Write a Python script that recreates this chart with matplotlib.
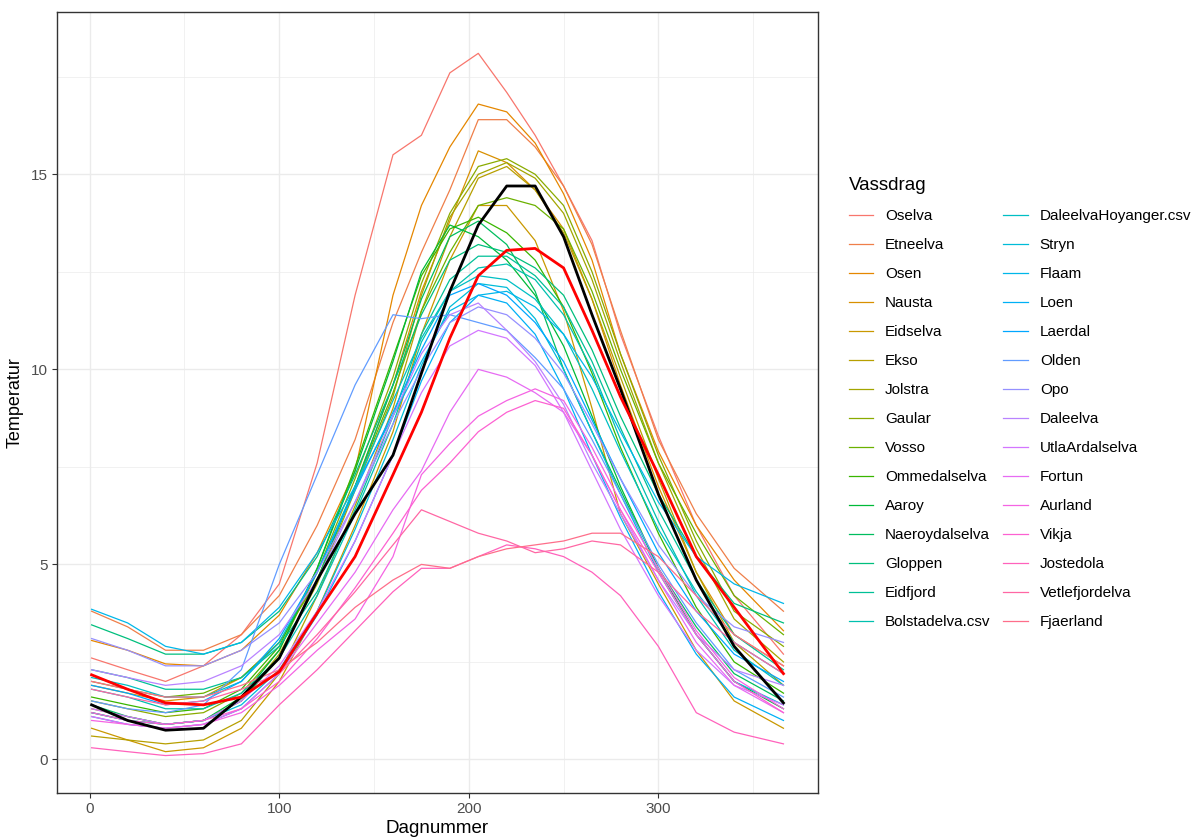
import numpy as np
import matplotlib.pyplot as plt

plt.rcParams['font.family'] = ['Liberation Sans', 'DejaVu Sans']

# dagnummer der verdiane er avlesne
dager = [1, 20, 40, 60, 80, 100, 120, 140, 160, 175, 190, 205, 220, 235, 250, 265, 280, 300, 320, 340, 366]

vassdrag = ["Oselva", "Etneelva", "Osen", "Nausta", "Eidselva", "Ekso", "Jolstra", "Gaular",
            "Vosso", "Ommedalselva", "Aaroy", "Naeroydalselva", "Gloppen", "Eidfjord",
            "Bolstadelva.csv", "DaleelvaHoyanger.csv", "Stryn", "Flaam", "Loen", "Laerdal",
            "Olden", "Opo", "Daleelva", "UtlaArdalselva", "Fortun", "Aurland", "Vikja",
            "Jostedola", "Vetlefjordelva", "Fjaerland"]

oselva = [2.6, 2.3, 2.0, 2.4, 3.2, 4.5, 7.6, 11.9, 15.5, 16.0, 17.6, 18.1, 17.1, 16.0, 14.7, 13.3, 10.9, 8.3, 6.0, 4.2, 2.7]
etneelva = [3.8, 3.4, 2.8, 2.8, 3.2, 4.2, 6.0, 8.2, 11.2, 13.0, 14.6, 16.4, 16.4, 15.7, 14.7, 13.2, 11.0, 8.2, 6.3, 4.9, 3.8]
osen = [3.05, 2.8, 2.45, 2.4, 2.8, 3.7, 5.3, 7.4, 11.9, 14.2, 15.7, 16.8, 16.6, 15.8, 14.5, 12.8, 10.4, 7.9, 6.0, 4.6, 3.3]
nausta = [1.9, 1.7, 1.5, 1.6, 2.1, 3.0, 4.6, 7.0, 9.6, 12.0, 13.8, 15.6, 15.3, 14.6, 13.6, 11.8, 9.6, 7.0, 4.8, 3.2, 2.4]
eidselva = [0.8, 0.5, 0.2, 0.3, 0.8, 2.0, 3.8, 6.0, 8.4, 10.9, 12.8, 14.2, 14.2, 13.3, 11.5, 9.0, 6.3, 4.5, 2.8, 1.5, 0.8]
ekso = [0.6, 0.5, 0.4, 0.5, 1.0, 2.2, 4.2, 6.5, 9.0, 11.5, 13.4, 14.9, 15.2, 14.6, 13.5, 11.8, 9.8, 7.2, 4.8, 3.0, 1.9]
jolstra = [1.3, 1.1, 0.9, 1.0, 1.5, 2.7, 4.5, 6.9, 9.3, 11.9, 13.9, 15.0, 15.3, 14.9, 14.0, 12.3, 10.2, 7.6, 5.4, 3.6, 2.5]
gaular = [1.5, 1.3, 1.1, 1.2, 1.7, 2.8, 4.8, 7.2, 9.8, 12.2, 14.0, 15.2, 15.4, 15.0, 14.2, 12.5, 10.4, 7.8, 5.6, 3.8, 2.9]
vosso = [2.0, 1.8, 1.6, 1.7, 2.1, 3.0, 4.6, 7.0, 9.4, 11.5, 13.0, 14.2, 14.4, 14.2, 13.6, 12.0, 10.0, 7.6, 5.8, 4.2, 3.2]
ommedalselva = [1.6, 1.4, 1.2, 1.3, 1.8, 2.9, 4.9, 7.5, 10.3, 12.4, 13.6, 13.9, 13.5, 12.8, 11.6, 9.9, 8.0, 5.8, 3.9, 2.5, 1.7]
aaroy = [1.2, 1.0, 0.9, 1.0, 1.6, 2.8, 4.9, 7.4, 10.2, 12.5, 13.7, 13.4, 12.8, 11.9, 10.6, 8.8, 7.0, 4.9, 3.2, 2.0, 1.3]
naeroydalselva = [1.4, 1.1, 0.9, 1.0, 1.5, 2.6, 4.6, 7.0, 9.6, 11.8, 13.4, 13.8, 13.2, 12.0, 10.0, 8.4, 6.9, 4.9, 3.4, 2.2, 1.5]
gloppen = [3.45, 3.1, 2.7, 2.7, 3.0, 3.8, 5.2, 7.3, 9.6, 11.4, 12.8, 13.2, 13.0, 12.6, 11.9, 10.5, 8.8, 6.8, 5.2, 4.0, 3.5]
eidfjord = [2.3, 2.1, 1.8, 1.8, 2.1, 2.9, 4.3, 6.4, 8.8, 10.9, 12.3, 12.9, 12.9, 12.4, 11.6, 10.2, 8.5, 6.4, 4.6, 3.2, 2.3]
bolstadelva = [1.8, 1.6, 1.3, 1.3, 1.7, 2.6, 4.2, 6.3, 8.6, 10.7, 12.0, 12.6, 12.7, 12.3, 11.4, 10.0, 8.2, 6.1, 4.2, 2.8, 1.9]
daleelva_hoyanger = [2.1, 1.9, 1.6, 1.6, 2.0, 3.0, 4.8, 7.0, 9.2, 10.8, 12.0, 12.4, 12.3, 11.8, 10.9, 9.5, 7.9, 5.9, 4.3, 3.0, 2.2]
stryn = [1.2, 1.0, 0.9, 1.0, 1.4, 2.3, 3.8, 5.9, 8.2, 10.1, 11.6, 12.2, 12.1, 11.3, 10.0, 8.4, 6.8, 4.8, 3.2, 2.0, 1.4]
flaam = [3.85, 3.5, 2.9, 2.7, 3.0, 3.9, 5.3, 7.0, 8.8, 10.2, 11.5, 11.9, 12.0, 11.6, 10.9, 9.8, 8.4, 6.6, 5.2, 4.5, 4.0]
loen = [1.1, 0.9, 0.8, 0.9, 1.3, 2.2, 3.7, 5.6, 7.8, 9.7, 11.2, 11.9, 11.7, 10.9, 9.5, 7.8, 6.2, 4.3, 2.7, 1.6, 1.0]
laerdal = [1.9, 1.7, 1.4, 1.5, 2.0, 3.1, 4.8, 6.9, 8.9, 10.5, 11.9, 12.2, 11.9, 11.2, 10.2, 8.7, 7.2, 5.3, 3.8, 2.7, 2.0]
olden = [1.5, 1.3, 1.2, 1.4, 2.3, 5.0, 7.3, 9.6, 11.4, 11.3, 11.4, 11.2, 11.0, 10.3, 9.5, 8.2, 6.8, 5.0, 3.5, 2.3, 1.6]
opo = [3.1, 2.8, 2.4, 2.4, 2.8, 3.5, 4.8, 6.6, 8.6, 10.0, 11.2, 11.6, 11.4, 10.8, 9.9, 8.6, 7.2, 5.5, 4.2, 3.4, 3.0]
daleelva = [2.3, 2.1, 1.9, 2.0, 2.4, 3.2, 4.6, 6.6, 8.8, 10.4, 11.4, 11.7, 11.0, 10.2, 9.1, 7.6, 6.3, 4.6, 3.2, 2.3, 1.9]
utlaardalselva = [1.3, 1.1, 0.9, 1.0, 1.5, 2.4, 3.8, 5.6, 7.8, 9.4, 10.6, 11.0, 10.8, 10.1, 8.9, 7.4, 5.9, 4.2, 2.8, 1.9, 1.4]
fortun = [1.1, 0.9, 0.8, 0.9, 1.3, 2.2, 3.5, 4.8, 6.4, 7.4, 8.9, 10.0, 9.8, 9.4, 8.9, 7.8, 6.4, 4.6, 3.0, 1.9, 1.2]
aurland = [1.0, 0.9, 0.8, 0.9, 1.2, 1.9, 2.8, 3.6, 5.2, 7.3, 8.1, 8.8, 9.2, 9.5, 9.2, 8.0, 6.6, 4.9, 3.3, 2.1, 1.3]
vikja = [1.2, 1.0, 0.9, 1.0, 1.3, 2.0, 3.1, 4.4, 5.8, 6.9, 7.6, 8.4, 8.9, 9.2, 9.0, 7.8, 6.4, 4.8, 3.2, 2.0, 1.2]
jostedola = [0.3, 0.2, 0.1, 0.15, 0.4, 1.4, 2.3, 3.3, 4.3, 4.9, 4.9, 5.2, 5.5, 5.4, 5.2, 4.8, 4.2, 2.9, 1.2, 0.7, 0.4]
vetlefjordelva = [1.8, 1.6, 1.4, 1.5, 1.8, 2.2, 3.2, 4.3, 5.5, 6.4, 6.1, 5.8, 5.6, 5.3, 5.4, 5.6, 5.5, 4.8, 3.8, 3.0, 2.2]
fjaerland = [2.0, 1.8, 1.6, 1.6, 1.9, 2.3, 3.0, 3.9, 4.6, 5.0, 4.9, 5.2, 5.4, 5.5, 5.6, 5.8, 5.8, 5.2, 4.2, 3.2, 2.4]

# tjukk svart og raud kurve
svart = [1.4, 1.0, 0.75, 0.8, 1.6, 2.6, 4.6, 6.3, 7.8, 9.9, 12.0, 13.7, 14.7, 14.7, 13.4, 11.4, 9.5, 6.8, 4.6, 2.9, 1.45]
middel = [2.17, 1.8, 1.45, 1.4, 1.6, 2.25, 3.75, 5.2, 7.3, 8.9, 10.8, 12.4, 13.05, 13.1, 12.6, 11.0, 9.3, 7.3, 5.2, 3.9, 2.2]

serier = [oselva, etneelva, osen, nausta, eidselva, ekso, jolstra, gaular, vosso,
          ommedalselva, aaroy, naeroydalselva, gloppen, eidfjord, bolstadelva,
          daleelva_hoyanger, stryn, flaam, loen, laerdal, olden, opo, daleelva,
          utlaardalselva, fortun, aurland, vikja, jostedola, vetlefjordelva, fjaerland]


def hcl_to_hex(h, c=100, l=65):
    # polar LUV -> sRGB (same as ggplot's hue_pal)
    xn, yn, zn = 95.047, 100.0, 108.883
    u = c * np.cos(np.radians(h))
    v = c * np.sin(np.radians(h))
    y = yn * ((l + 16) / 116) ** 3
    un = 4 * xn / (xn + 15 * yn + 3 * zn)
    vn = 9 * yn / (xn + 15 * yn + 3 * zn)
    up = u / (13 * l) + un
    vp = v / (13 * l) + vn
    x = 9 * y * up / (4 * vp)
    z = (9 * y - 15 * vp * y - vp * x) / (3 * vp)
    xyz = np.array([x, y, z]) / 100
    m = np.array([[3.2404542, -1.5371385, -0.4985314],
                  [-0.9692660, 1.8760108, 0.0415560],
                  [0.0556434, -0.2040259, 1.0572252]])
    rgb = m @ xyz
    rgb = np.where(rgb <= 0.0031308, 12.92 * rgb, 1.055 * np.abs(rgb) ** (1 / 2.4) - 0.055)
    rgb = np.clip(rgb, 0, 1)
    return "#%02x%02x%02x" % tuple(int(round(k * 255)) for k in rgb)


n = len(vassdrag)
hues = np.linspace(15, 375 - 360 / n, n)
farger = [hcl_to_hex(h) for h in hues]

fig = plt.figure(figsize=(12.03, 8.39), dpi=100)
ax = fig.add_axes([0.0474, 0.0548, 0.6326, 0.9309])

for namn, verdi, farge in zip(vassdrag, serier, farger):
    ax.plot(dager, verdi, color=farge, lw=0.9, label=namn)

ax.plot(dager, svart, color="black", lw=2.0)
ax.plot(dager, middel, color="red", lw=2.0)

ax.set_xlim(-17.25, 384.25)
ax.set_ylim(-0.86, 19.16)
ax.set_xticks([0, 100, 200, 300])
ax.set_yticks([0, 5, 10, 15])
ax.set_xticks([50, 150, 250, 350], minor=True)
ax.set_yticks([2.5, 7.5, 12.5, 17.5], minor=True)
ax.grid(which="major", color="#EBEBEB", lw=1.0)
ax.grid(which="minor", color="#EBEBEB", lw=0.5)
ax.set_axisbelow(True)
ax.tick_params(which="major", length=3.5, width=0.8, color="#333333",
               labelcolor="#4D4D4D", labelsize=11, pad=3)
ax.tick_params(which="minor", length=0)
for sp in ax.spines.values():
    sp.set_color("#333333")
    sp.set_linewidth(1.0)

ax.set_xlabel("Dagnummer", fontsize=13.5, labelpad=3)
ax.set_ylabel("Temperatur", fontsize=13, labelpad=5)

leg = fig.legend(loc="upper left", bbox_to_anchor=(0.694, 0.805), ncol=2,
                 frameon=False, fontsize=11, title="Vassdrag", title_fontsize=13.5,
                 handlelength=1.6, handletextpad=0.78, columnspacing=0.85,
                 labelspacing=0.98, alignment="left")

fig.savefig("out.png", dpi=100)
